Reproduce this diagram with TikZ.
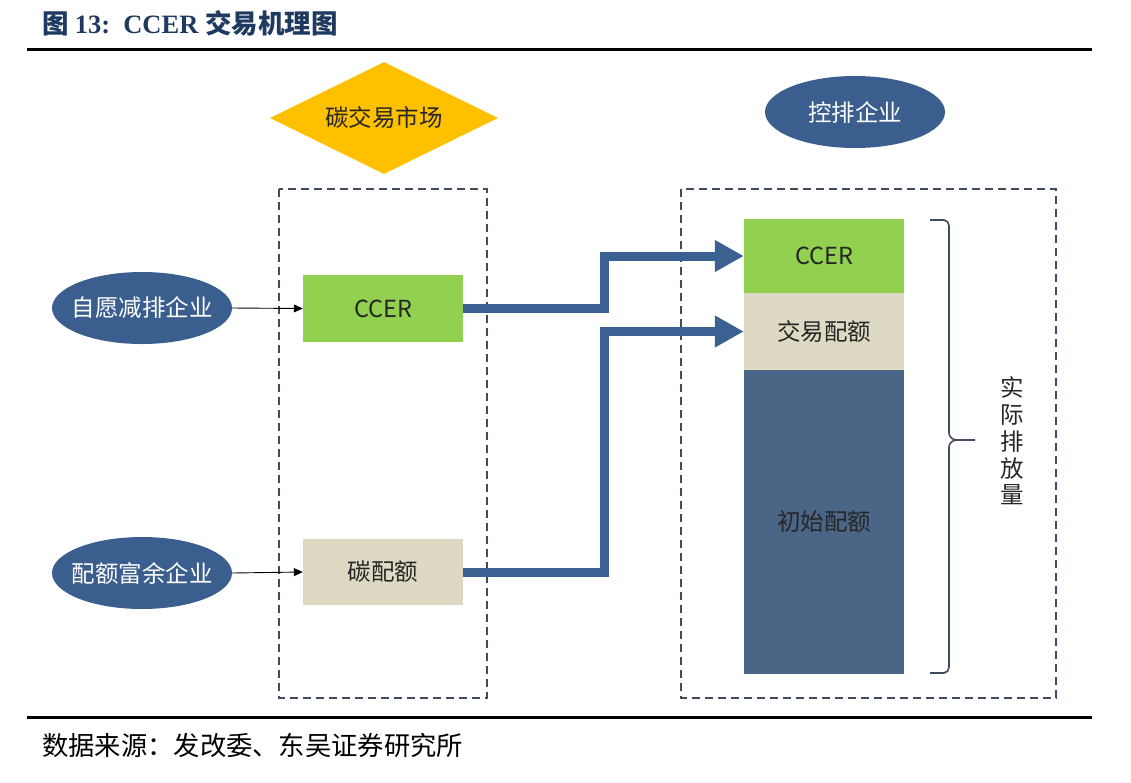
\documentclass[tikz,border=0pt]{standalone}
\usepackage{fontspec}
\usetikzlibrary{shapes.geometric,arrows.meta}
\newfontfamily\cjk{Noto Sans CJK SC}
\newfontfamily\latserif{Liberation Serif}
\definecolor{ttl}{HTML}{1F3A60}
\definecolor{navy}{HTML}{3A5F8E}
\definecolor{arr}{HTML}{3A6192}
\definecolor{grn}{HTML}{92D050}
\definecolor{tan}{HTML}{DDD9C3}
\definecolor{slate}{HTML}{4B6587}
\definecolor{dash}{HTML}{3F4B5E}
\definecolor{gold}{HTML}{FFC000}
\newcommand{\zw}[1]{\makebox[0pt]{#1}}
\begin{document}
\begin{tikzpicture}[x=1pt,y=-1pt,
  txt/.style={font=\cjk\fontsize{23.5}{28}\selectfont, text=black!85},
  oval/.style={ellipse, fill=navy, minimum width=180pt, minimum height=72pt, inner sep=0pt, font=\cjk\fontsize{23.5}{28}\selectfont, text=white},
  boxnode/.style={rectangle, minimum width=160pt, inner sep=0pt, txt},
  frame/.style={draw=dash, line width=1.8pt, dash pattern=on 8pt off 5pt},
  thin/.style={draw=black, line width=0.9pt, -{Triangle[length=9pt,width=8pt]}},
  fat/.style={draw=arr, line width=9pt, line join=miter, -{Triangle[length=29pt,width=30pt]}},
  rule/.style={draw=black, line width=3pt}]
\useasboundingbox (0,0) rectangle (1131,782);
% title and rules
\node[anchor=west, text=ttl, inner sep=0pt] (title) at (42,23) {\fontsize{26.5}{30}\selectfont\cjk\bfseries 图 \latserif\bfseries 13:\ \ CCER \cjk\bfseries 交易机理图};
\draw[rule] (27,49) -- (1092,49);
\draw[rule] (27,717) -- (1092,717);
\node[anchor=west, inner sep=0pt] (src) at (42,745) {\cjk\fontsize{26.3}{30}\selectfont 数据来源：发改委、东吴证券研究所};
% frames
\draw[frame] (279,189) rectangle (487,698);
\draw[frame] (681,189) rectangle (1056,698);
% top shapes
\node[diamond, fill=gold, aspect=2.04, minimum width=228pt, minimum height=112pt, inner sep=0pt, txt] (mkt) at (384,118) {碳交易市场};
\node[oval] (ctrl) at (855,112) {\zw{控排企业}};
% left side
\node[oval] (vol) at (142,308) {\zw{自愿减排企业}};
\node[oval] (sur) at (142,573) {\zw{配额富余企业}};
\node[boxnode, fill=grn, minimum height=67pt] (c1) at (383,308.5) {CCER};
\node[boxnode, fill=tan, minimum height=66pt] (q1) at (383,572) {碳配额};
\draw[thin] (vol.east) -- (c1.west);
\draw[thin] (sur.east) -- (q1.west);
% right stack
\node[boxnode, fill=grn, minimum height=74pt] (c2) at (824,256) {CCER};
\node[boxnode, fill=tan, minimum height=77pt] (t2) at (824,331.5) {交易配额};
\node[boxnode, fill=slate, minimum height=304pt] (i2) at (824,522) {初始配额};
% thick arrows
\draw[fat] (c1.east) -- (604,308.5) |- (c2.west);
\draw[fat] (q1.east) -- (604,572) |- (t2.west);
% brace
\draw[draw=dash, line width=1.6pt] (930,220) -- (944,220) to[out=0,in=90] (949,226) -- (949,433) to[out=-90,in=180] (957,440) -- (975,440);
\draw[draw=dash, line width=1.6pt] (957,440) to[out=180,in=90] (949,447) -- (949,667) to[out=-90,in=0] (944,673) -- (930,673);
\node[txt, align=center, font=\cjk\fontsize{23.5}{26.8}\selectfont] (act) at (1012,441) {实\\际\\排\\放\\量};
\end{tikzpicture}
\end{document}
